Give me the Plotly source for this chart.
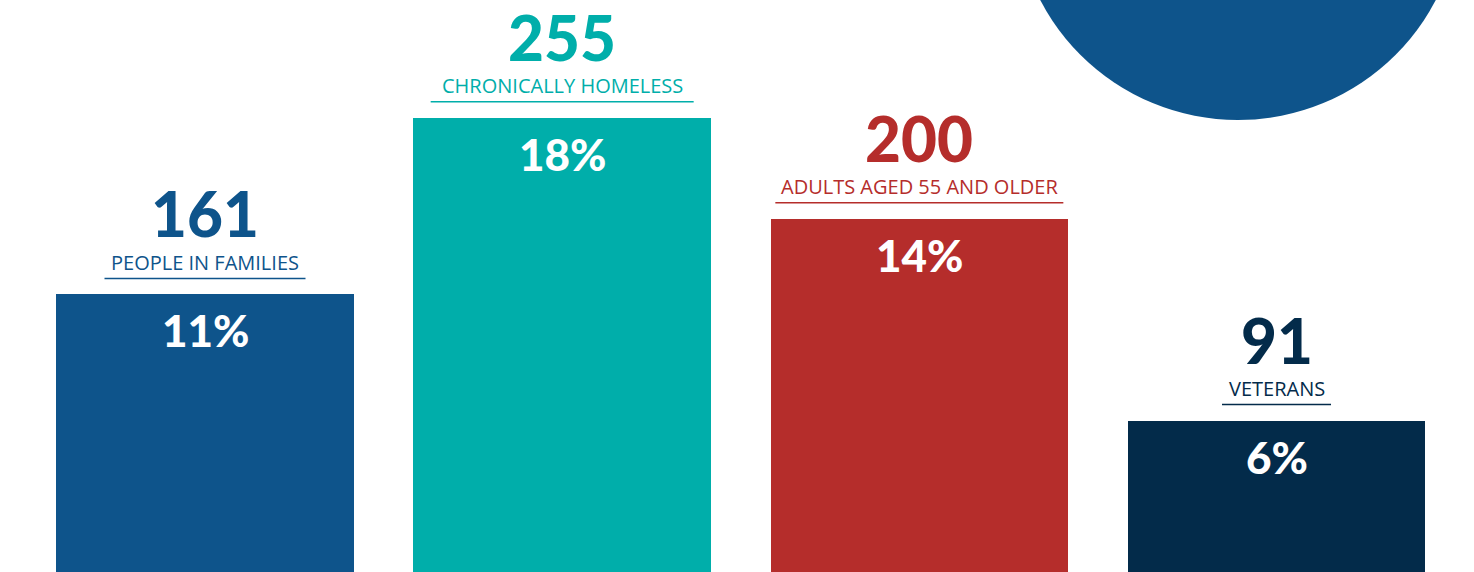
import plotly.graph_objects as go

categories = ["PEOPLE IN FAMILIES", "CHRONICALLY HOMELESS", "ADULTS AGED 55 AND OLDER", "VETERANS"]
counts = [161, 255, 200, 91]
percents = [11, 18, 14, 6]
percent_labels = ["11%", "18%", "14%", "6%"]
colors = ["#0E548B", "#00AEAA", "#B52D2B", "#032B4A"]
underline_widths = [201, 263, 288, 109]

W, H = 1474, 572
px_per_pct = 25.23
spacing = 357.17

xs = list(range(len(categories)))

fig = go.Figure()
fig.add_trace(go.Bar(
    x=xs, y=percents, width=297.5 / spacing,
    marker=dict(color=colors, line=dict(width=0)),
    hoverinfo="skip",
))

annotations = []
shapes = []
for i, (cat, cnt, pct, plab, col, uw) in enumerate(zip(categories, counts, percents, percent_labels, colors, underline_widths)):
    annotations.append(dict(
        x=i, y=pct, xref="x", yref="y", text=str(cnt), showarrow=False,
        yshift=81, yanchor="middle", xanchor="center",
        font=dict(family="Lato", size=62, color=col, weight=900),
    ))
    annotations.append(dict(
        x=i, y=pct, xref="x", yref="y", text=cat, showarrow=False,
        yshift=32, yanchor="middle", xanchor="center",
        font=dict(family="Open Sans", size=20, color=col),
    ))
    annotations.append(dict(
        x=i, y=pct, xref="x", yref="y", text=plab, showarrow=False,
        yshift=-36, yanchor="middle", xanchor="center",
        font=dict(family="Lato", size=44, color="white", weight=900),
    ))
    shapes.append(dict(
        type="line", xref="x", yref="y", xsizemode="pixel", ysizemode="pixel",
        xanchor=i, yanchor=pct, x0=-uw / 2, x1=uw / 2, y0=16, y1=16,
        line=dict(color=col, width=1.5),
    ))

cx, cy, r = 1238, -103, 223
shapes.append(dict(
    type="circle", xref="paper", yref="paper",
    x0=(cx - r) / W, x1=(cx + r) / W,
    y0=(H - cy - r) / H, y1=(H - cy + r) / H,
    fillcolor="#0E548B", line=dict(width=0), layer="below",
))

fig.update_layout(
    width=W, height=H,
    margin=dict(l=0, r=0, t=0, b=0),
    paper_bgcolor="white", plot_bgcolor="white",
    showlegend=False,
    xaxis=dict(range=[-205 / spacing, (W - 205) / spacing], visible=False, fixedrange=True),
    yaxis=dict(range=[0, H / px_per_pct], visible=False, fixedrange=True),
    annotations=annotations, shapes=shapes,
    bargap=0,
)

fig.write_html("out.html", config={"displayModeBar": False},
               post_script="document.body.style.margin='0px';document.body.style.overflow='hidden';")
